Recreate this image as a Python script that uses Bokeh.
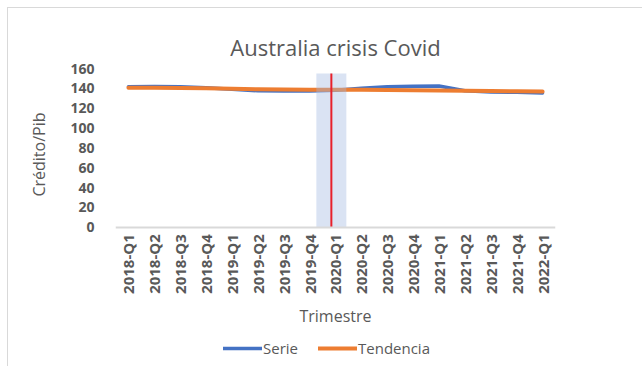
from bokeh.plotting import figure
from bokeh.models import FactorRange, Range1d, FixedTicker, Legend, LegendItem, ColumnDataSource, Title
from bokeh.transform import dodge
from bokeh.embed import file_html
from bokeh.resources import INLINE

quarters = ["2018-Q1", "2018-Q2", "2018-Q3", "2018-Q4",
            "2019-Q1", "2019-Q2", "2019-Q3", "2019-Q4",
            "2020-Q1", "2020-Q2", "2020-Q3", "2020-Q4",
            "2021-Q1", "2021-Q2", "2021-Q3", "2021-Q4", "2022-Q1"]
serie = [141.7, 141.8, 141.7, 140.6, 139.0, 137.5, 137.2, 137.3,
         138.0, 140.0, 141.5, 142.2, 142.3, 137.5, 136.3, 136.0, 135.3]
tendencia = [140.7, 140.6, 140.4, 140.0, 139.5, 139.0, 138.8, 138.7,
             138.7, 138.6, 138.3, 138.0, 137.8, 137.5, 137.3, 137.1, 136.7]
y_ticks = [0, 20, 40, 60, 80, 100, 120, 140, 160]
crisis_quarter = ["2020-Q1"]
crisis_top = [155]

FONT = "Open Sans"
GRAY = "#595959"

# frame extends below the x axis so the legend can sit under the axis labels
p = figure(frame_width=440, frame_height=298, x_range=FactorRange(*quarters, range_padding=0),
           y_range=Range1d(-140.4, 160), output_backend="svg", toolbar_location=None,
           min_border_left=107, min_border_right=87, min_border_top=60, min_border_bottom=0)
p.styles = {"margin-left": "7px", "margin-top": "7px",
            "border-left": "1px solid #d9d9d9", "border-top": "1px solid #d9d9d9"}

p.title.text = "Australia crisis Covid"
p.title.align = "center"
p.title.text_font = FONT
p.title.text_font_size = "22px"
p.title.text_font_style = "normal"
p.title.text_color = GRAY
p.title.standoff = 13

p.outline_line_color = None
p.xgrid.grid_line_color = None
p.ygrid.grid_line_color = None

p.yaxis.ticker = FixedTicker(ticks=y_ticks)
p.yaxis.axis_line_color = None
p.yaxis.major_tick_line_color = None
p.yaxis.minor_tick_line_color = None
p.yaxis.major_label_standoff = 15
p.yaxis.major_label_text_font = FONT
p.yaxis.major_label_text_font_style = "bold"
p.yaxis.major_label_text_font_size = "14px"
p.yaxis.major_label_text_color = GRAY

ylab = Title(text="Crédito/Pib", align="right", offset=44, vertical_align="bottom", standoff=35,
             text_font=FONT, text_font_size="16px", text_font_style="normal", text_color=GRAY)
p.add_layout(ylab, "left")

p.xaxis.fixed_location = 0
p.xaxis.axis_line_color = "#d9d9d9"
p.xaxis.axis_line_width = 2
p.xaxis.major_tick_line_color = None
p.xaxis.minor_tick_line_color = None
p.xaxis.major_label_orientation = 3.14159 / 2
p.xaxis.major_label_standoff = 1
p.xaxis.major_label_text_font = FONT
p.xaxis.major_label_text_font_style = "bold"
p.xaxis.major_label_text_font_size = "15px"
p.xaxis.major_label_text_color = GRAY
p.xaxis.axis_label = "Trimestre"
p.xaxis.axis_label_text_font = FONT
p.xaxis.axis_label_text_font_style = "normal"
p.xaxis.axis_label_text_font_size = "16px"
p.xaxis.axis_label_text_color = GRAY
p.xaxis.axis_label_standoff = 8

src = ColumnDataSource(dict(q=quarters, serie=serie, tendencia=tendencia))
r1 = p.line("q", "serie", source=src, line_color="#4472C4", line_width=3.5, line_cap="round", line_join="round")
r2 = p.line("q", "tendencia", source=src, line_color="#ED7D31", line_width=4, line_cap="round", line_join="round")

csrc = ColumnDataSource(dict(q=crisis_quarter, top=crisis_top))
p.vbar(x=dodge("q", -0.16, range=p.x_range), top="top", bottom=0, width=1.16, source=csrc,
       fill_color="#A2B9E1", fill_alpha=0.4, line_color=None)
p.segment(x0=dodge("q", -0.16, range=p.x_range), y0=0, x1=dodge("q", -0.16, range=p.x_range), y1="top",
          source=csrc, line_color="#E8202A", line_width=2)

legend = Legend(items=[LegendItem(label="Serie", renderers=[r1]),
                       LegendItem(label="Tendencia", renderers=[r2])],
                orientation="horizontal", location=(108, 8), border_line_color=None,
                background_fill_alpha=0, glyph_width=39, glyph_height=16, label_standoff=1,
                spacing=20, margin=0, padding=0, label_height=16,
                label_text_font=FONT, label_text_font_size="15px", label_text_color=GRAY)
p.add_layout(legend, "center")

open("out.html", "w").write(file_html(p, INLINE))
